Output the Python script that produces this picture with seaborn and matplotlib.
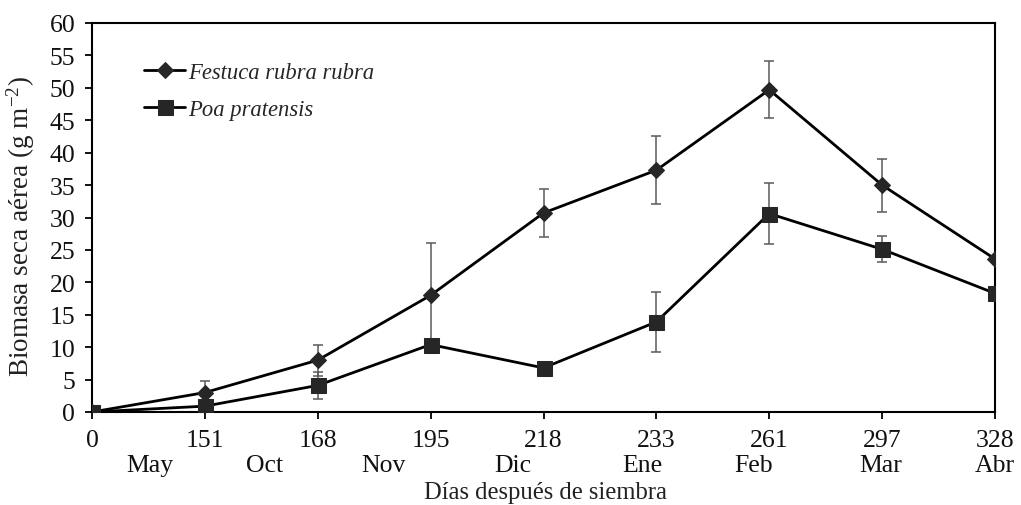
import numpy as np
import pandas as pd
import matplotlib
matplotlib.use("Agg")
import matplotlib.pyplot as plt
import matplotlib.transforms as mtrans
import seaborn as sns

# ---- data ----
days = ["0", "151", "168", "195", "218", "233", "261", "297", "328"]
months = ["May", "Oct", "Nov", "Dic", "Ene", "Feb", "Mar", "Abr"]
festuca = [0.0, 3.0, 8.0, 18.0, 30.7, 37.3, 49.7, 35.0, 23.6]
festuca_err = [0.0, 1.8, 2.4, 8.0, 3.7, 5.2, 4.4, 4.1, 0.0]
poa = [0.0, 0.9, 4.1, 10.4, 6.8, 13.9, 30.6, 25.1, 18.3]
poa_err = [0.0, 0.0, 2.1, 0.0, 0.0, 4.6, 4.7, 2.0, 0.0]
series_names = ["Festuca rubra rubra", "Poa pratensis"]

# positions of month labels (between day ticks, as typed in the source)
month_pos = [0.51, 1.53, 2.58, 3.73, 4.88, 5.86, 6.99, 8.0]

sns.set_style("ticks")
plt.rcParams["font.family"] = ["Liberation Serif", "DejaVu Serif"]
plt.rcParams["mathtext.fontset"] = "stix"

pos = np.arange(len(days))
df_f = pd.DataFrame({"pos": pos, "val": festuca})
df_p = pd.DataFrame({"pos": pos, "val": poa})

fig = plt.figure(figsize=(10.21, 5.06), dpi=100)
ax = fig.add_axes([92 / 1021, 1 - 413 / 506, (995 - 92) / 1021, (413 - 24) / 506])

# error bars
ax.errorbar(pos, festuca, yerr=festuca_err, fmt="none", ecolor="#5a5a5a",
            elinewidth=1.1, capsize=3.8, capthick=1.1, zorder=1)
ax.errorbar(pos, poa, yerr=poa_err, fmt="none", ecolor="#5a5a5a",
            elinewidth=1.1, capsize=3.8, capthick=1.1, zorder=1)

sns.lineplot(data=df_f, x="pos", y="val", ax=ax, color="black", lw=2.0,
             marker="D", markersize=8.4, markerfacecolor="#262626",
             markeredgecolor="#262626", label=series_names[0], zorder=3)
sns.lineplot(data=df_p, x="pos", y="val", ax=ax, color="black", lw=2.0,
             marker="s", markersize=10.8, markerfacecolor="#262626",
             markeredgecolor="#262626", label=series_names[1], zorder=3)

ax.set_xlim(0, len(days) - 1)
ax.set_ylim(0, 60)
ax.set_yticks(np.arange(0, 61, 5))
ax.set_xticks(pos)
ax.set_xticklabels(days)
ax.tick_params(axis="both", direction="out", length=5, width=1.3,
               labelsize=18.5, pad=7, color="black", labelcolor="#111111")
for sp in ax.spines.values():
    sp.set_visible(True)
    sp.set_linewidth(1.5)
    sp.set_color("black")

ax.set_xlabel("")
ax.set_ylabel("")
fig.text(21 / 1021, 1 - 226.5 / 506, "Biomasa seca aérea (g m$^{\\mathregular{-2}}$)",
         rotation=90, ha="center", va="center", fontsize=19.5, color="#222222")

# month labels under day ticks
trans = mtrans.blended_transform_factory(ax.transData, fig.transFigure)
for m, p in zip(months, month_pos):
    ax.text(p, 1 - 466 / 506, m, transform=trans, ha="center", va="center",
            fontsize=18.5, color="#111111", clip_on=False)

fig.text(545 / 1021, 1 - 493 / 506, "Días después de siembra",
         ha="center", va="center", fontsize=17.7, color="#222222")

leg = ax.legend(loc="upper left", bbox_to_anchor=(0.058, 0.90), frameon=False,
                borderpad=0, borderaxespad=0, handlelength=1.8,
                handletextpad=0.15, labelspacing=0.72,
                prop={"family": "Liberation Serif", "style": "italic", "size": 16.3})

fig.savefig("out.png", dpi=100)
